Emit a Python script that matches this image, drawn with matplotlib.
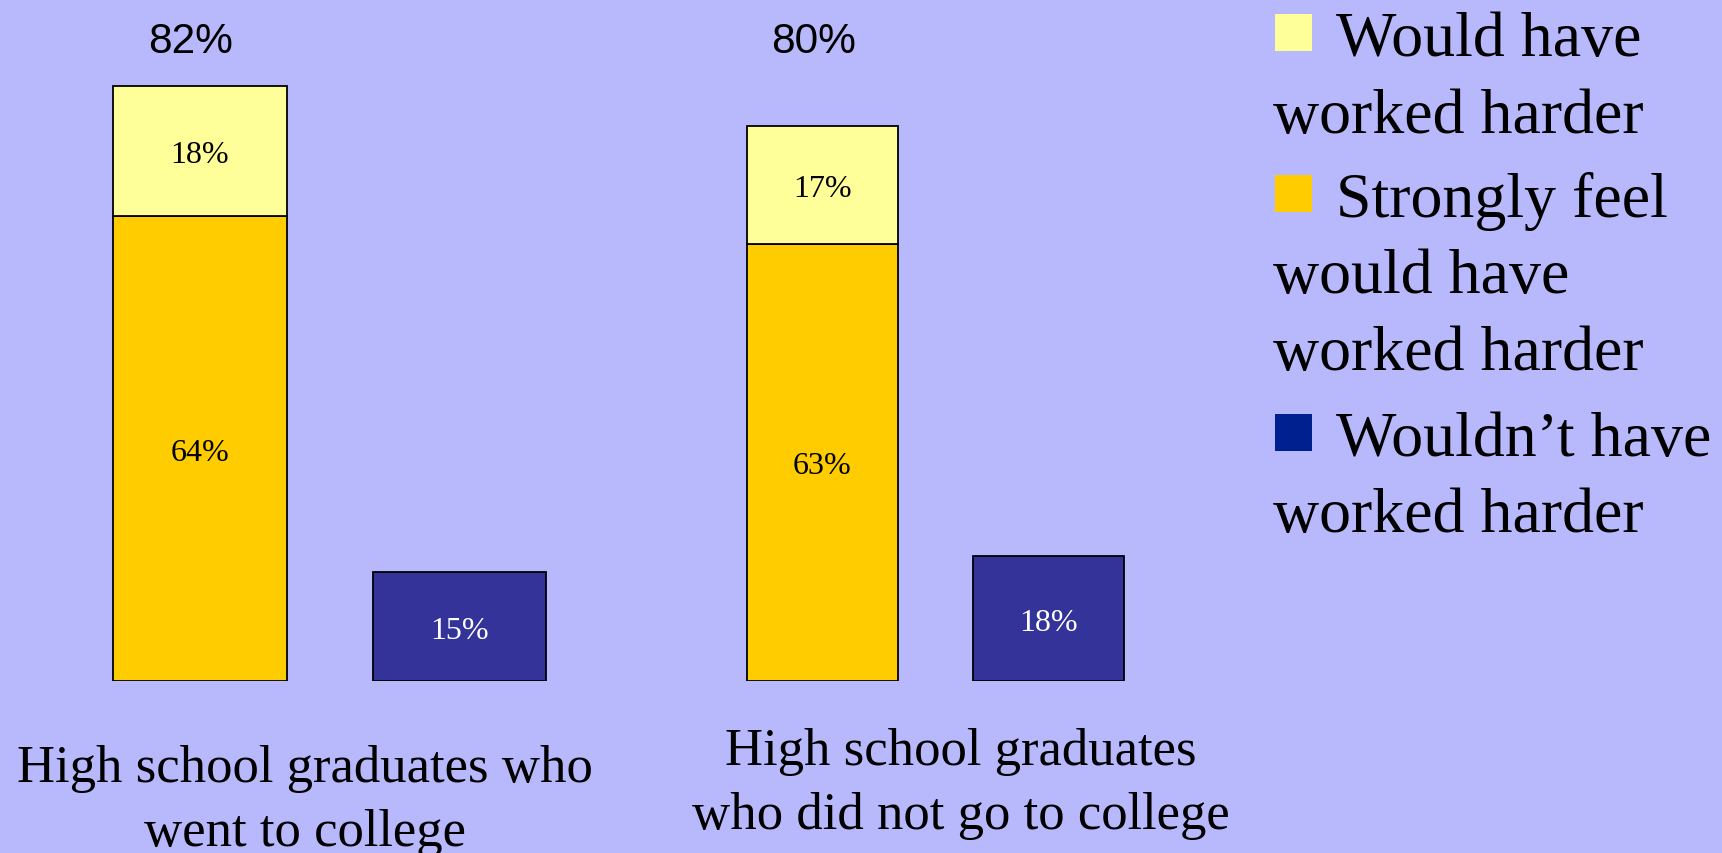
import matplotlib
matplotlib.use("Agg")
import matplotlib.pyplot as plt
from matplotlib.patches import Rectangle
from matplotlib.transforms import blended_transform_factory, ScaledTranslation

# data
groups = ["High school graduates who\nwent to college",
          "High school graduates\nwho did not go to college"]
would_have = [18, 17]
strongly = [64, 63]
wouldnt = [15, 18]
legend_labels = [["Would have", "worked harder"],
                 ["Strongly feel", "would have", "worked harder"],
                 ["Wouldn\u2019t have", "worked harder"]]

bg = "#B8B8FC"
c_yellow = "#FFFF99"
c_orange = "#FFCC00"
c_blue = "#333399"
c_blue_leg = "#002090"

W, H = 1722, 854
fig = plt.figure(figsize=(W / 100, H / 100), dpi=100, facecolor=bg)
serif = "Liberation Serif"
sans = "Liberation Sans"


def fx(px):
    return px / W


def fy(py):
    return 1 - py / H


# each group is its own little chart (different scale / bar width)
base = 682
ax_x = [(70.3, 589.1), (709.5, 1161.1)]
ymax = [base / 7.26, base / 6.94]
label_x = [305, 961]
label_y = [781.7, 765]

for i in range(2):
    l, r = ax_x[i]
    ax = fig.add_axes([fx(l), fy(base), fx(r - l), base / H])
    ax.set_xlim(-0.5, 1.5)
    ax.set_ylim(0, ymax[i])
    ax.axis("off")
    w = 0.668
    ax.bar(0, strongly[i], w, color=c_orange, edgecolor="black", lw=1.3)
    ax.bar(0, would_have[i], w, bottom=strongly[i], color=c_yellow,
           edgecolor="black", lw=1.3)
    ax.bar(1, wouldnt[i], w, color=c_blue, edgecolor="black", lw=1.3)

    ax.text(0, strongly[i] / 2, f"{strongly[i]}%", ha="center",
            va="center_baseline", fontsize=23, family=serif, color="black")
    ax.text(0, strongly[i] + would_have[i] / 2, f"{would_have[i]}%",
            ha="center", va="center_baseline", fontsize=23, family=serif,
            color="black")
    ax.text(1, wouldnt[i] / 2, f"{wouldnt[i]}%", ha="center",
            va="center_baseline", fontsize=23, family=serif, color="white")

    total = strongly[i] + would_have[i]
    tr = blended_transform_factory(ax.transData, fig.transFigure) + \
        ScaledTranslation(-0.09, 0, fig.dpi_scale_trans)
    ax.text(0, fy(53), f"{total}%", transform=tr, ha="center", va="baseline",
            fontsize=30.5, family=sans, color="black")

    for k, line in enumerate(groups[i].split("\n")):
        fig.text(fx(label_x[i]), fy(label_y[i] + k * 64), line, ha="center",
                 va="baseline", fontsize=38, family=serif, color="black")

# legend drawn by hand, text wraps under the marker like the original
leg_colors = [c_yellow, c_orange, c_blue_leg]
first_base = [56, 216.7, 456]
for j, lines in enumerate(legend_labels):
    y0 = first_base[j]
    fig.patches.append(Rectangle((fx(1275), fy(y0 - 4)), fx(37), 37 / H,
                                 transform=fig.transFigure,
                                 facecolor=leg_colors[j], edgecolor="none"))
    for k, line in enumerate(lines):
        x = 1336 if k == 0 else 1272.7
        fig.text(fx(x), fy(y0 + k * 76.5), line, ha="left", va="baseline",
                 fontsize=46, family=serif, color="black")

fig.savefig("out.png", dpi=100, facecolor=bg)
